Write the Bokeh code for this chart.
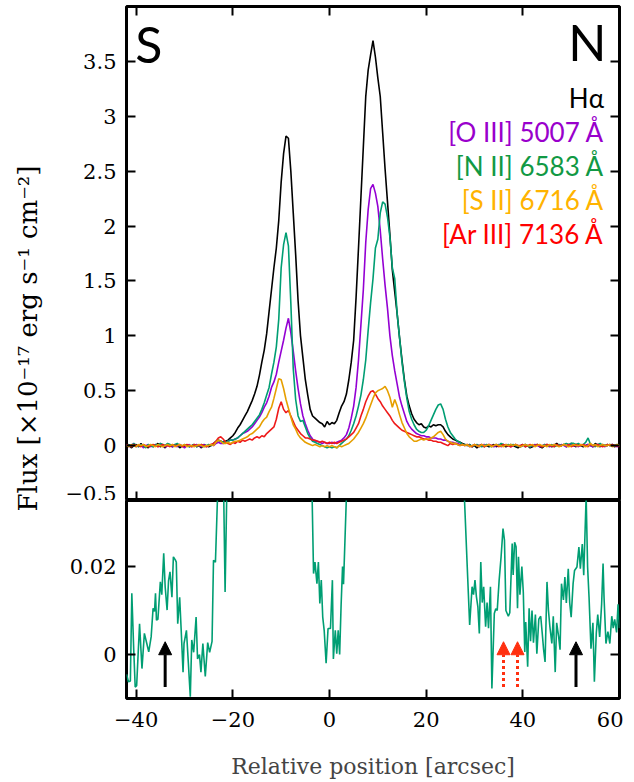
import math
from bokeh.plotting import figure
from bokeh.models import (Range1d, FixedTicker, LinearAxis, Label, Arrow, NormalHead,
                          ColumnDataSource)
from bokeh.layouts import row, column
from bokeh.embed import file_html
from bokeh.resources import INLINE

# ---------------- data ----------------
# sampling positions along the slit [arcsec], 0.5" steps from -42 to 60
POS = [round(-42 + 0.5 * i, 1) for i in range(205)]

HALPHA = [
    -0.01, 0.01, -0.02, 0.0, 0.01, -0.01, 0.02, -0.01, 0.0, -0.02,
    0.01, -0.01, 0.0, 0.02, -0.01, 0.0, -0.02, 0.01, 0.0, -0.01,
    0.0, 0.01, -0.02, 0.0, -0.01, 0.01, -0.01, 0.0, 0.01, -0.01,
    0.0, -0.02, 0.01, 0.0, -0.01, 0.0, 0.01, 0.03, 0.05, 0.04,
    0.03, 0.04, 0.05, 0.07, 0.09, 0.12, 0.16, 0.19, 0.23, 0.27,
    0.31, 0.36, 0.41, 0.47, 0.54, 0.64, 0.76, 0.87, 1.02, 1.22,
    1.42, 1.62, 1.80, 2.05, 2.40, 2.66, 2.82, 2.80, 2.50, 2.12,
    1.74, 1.32, 1.00, 0.80, 0.60, 0.46, 0.33, 0.27, 0.25, 0.23,
    0.21, 0.20, 0.17, 0.22, 0.19, 0.21, 0.20, 0.23, 0.30, 0.36,
    0.40, 0.47, 0.60, 0.76, 0.96, 1.35, 1.80, 2.26, 2.72, 3.18,
    3.42, 3.56, 3.69, 3.54, 3.35, 3.18, 2.85, 2.52, 2.22, 1.92,
    1.60, 1.40, 1.20, 0.98, 0.78, 0.60, 0.45, 0.36, 0.29, 0.24,
    0.21, 0.19, 0.20, 0.17, 0.16, 0.18, 0.17, 0.19, 0.18, 0.19,
    0.19, 0.17, 0.13, 0.10, 0.08, 0.06, 0.05, 0.04, 0.03, 0.02,
    0.01, 0.0, 0.01, -0.01, 0.0, -0.02, 0.0, 0.01, -0.01, 0.0,
    -0.01, 0.0, 0.01, -0.01, 0.0, 0.01, 0.0, -0.01, 0.0, 0.01,
    0.0, -0.01, -0.02, 0.0, 0.01, -0.01, 0.0, -0.02, -0.01, 0.0,
    0.01, -0.01, -0.02, 0.0, 0.01, 0.0, -0.01, 0.0, 0.02, 0.0,
    0.0, 0.01, -0.01, 0.0, 0.02, 0.0, -0.01, 0.01, 0.0, -0.01,
    0.0, 0.01, 0.0, -0.01, 0.02, 0.0, -0.01, 0.01, 0.0, 0.0,
    0.01, 0.0, -0.01, 0.0, 0.01,
]

OIII = [
    0.01, -0.01, 0.0, 0.02, -0.01, 0.0, 0.01, -0.02, 0.0, 0.01,
    -0.01, 0.0, 0.01, -0.01, 0.02, 0.0, -0.01, 0.0, 0.01, -0.01,
    0.0, -0.01, 0.01, 0.0, -0.02, 0.0, 0.01, -0.01, 0.0, 0.01,
    0.0, -0.01, 0.01, -0.01, 0.0, 0.01, 0.0, 0.02, 0.03, 0.02,
    0.02, 0.03, 0.04, 0.05, 0.05, 0.06, 0.07, 0.09, 0.11, 0.12,
    0.13, 0.15, 0.17, 0.20, 0.23, 0.26, 0.30, 0.35, 0.39, 0.45,
    0.53, 0.58, 0.65, 0.76, 0.86, 0.96, 1.07, 1.16, 1.03, 0.86,
    0.68, 0.52, 0.38, 0.27, 0.20, 0.14, 0.09, 0.06, 0.04, 0.04,
    0.03, 0.02, 0.03, 0.02, 0.02, 0.03, 0.02, 0.03, 0.04, 0.05,
    0.07, 0.10, 0.16, 0.25, 0.36, 0.53, 0.78, 1.10, 1.42, 1.85,
    2.15, 2.34, 2.38, 2.30, 2.18, 1.96, 1.70, 1.46, 1.25, 1.00,
    0.82, 0.68, 0.56, 0.44, 0.36, 0.29, 0.22, 0.18, 0.15, 0.13,
    0.11, 0.10, 0.09, 0.09, 0.08, 0.08, 0.07, 0.07, 0.07, 0.06,
    0.06, 0.05, 0.05, 0.04, 0.03, 0.03, 0.02, 0.02, 0.01, 0.01,
    0.0, 0.01, -0.01, 0.0, 0.01, 0.0, -0.01, 0.0, 0.01, 0.0,
    0.01, 0.0, -0.01, 0.0, 0.01, -0.01, 0.0, 0.01, 0.0, -0.01,
    0.0, 0.01, 0.0, -0.01, 0.0, 0.01, 0.0, -0.01, 0.0, 0.01,
    0.0, -0.01, 0.0, 0.01, 0.0, -0.01, 0.0, 0.01, 0.0, 0.0,
    0.01, 0.0, -0.01, 0.0, 0.01, 0.0, 0.0, -0.01, 0.01, 0.0,
    0.0, 0.01, 0.0, -0.01, 0.0, 0.01, 0.0, 0.0, -0.01, 0.01,
    0.0, 0.01, 0.0, -0.01, 0.0,
]

NII = [
    0.0, 0.01, -0.01, 0.02, 0.0, -0.01, 0.01, 0.0, -0.02, 0.01,
    0.0, -0.01, 0.01, 0.0, 0.02, 0.01, 0.0, 0.02, 0.01, 0.0,
    0.01, 0.02, 0.0, -0.01, 0.01, 0.0, -0.01, 0.0, 0.01, -0.01,
    0.0, 0.01, -0.01, 0.0, 0.01, 0.0, 0.02, 0.04, 0.05, 0.04,
    0.03, 0.03, 0.04, 0.05, 0.05, 0.06, 0.07, 0.09, 0.11, 0.13,
    0.15, 0.17, 0.19, 0.22, 0.25, 0.28, 0.33, 0.39, 0.46, 0.53,
    0.65, 0.76, 0.90, 1.15, 1.62, 1.83, 1.94, 1.82, 1.30, 0.70,
    0.42, 0.27, 0.22, 0.23, 0.17, 0.11, 0.07, 0.04, 0.03, 0.02,
    0.01, 0.0, -0.01, -0.02, -0.01, -0.02, -0.01, -0.02, 0.0, 0.02,
    0.04, 0.06, 0.09, 0.14, 0.20, 0.27, 0.36, 0.46, 0.60, 0.78,
    1.05, 1.30, 1.52, 1.80, 1.88, 2.12, 2.22, 2.20, 2.08, 1.90,
    1.62, 1.52, 1.20, 0.98, 0.76, 0.58, 0.43, 0.31, 0.24, 0.19,
    0.15, 0.13, 0.12, 0.12, 0.14, 0.18, 0.23, 0.28, 0.33, 0.37,
    0.38, 0.33, 0.24, 0.17, 0.12, 0.09, 0.06, 0.04, 0.03, 0.01,
    0.01, 0.0, 0.01, -0.01, 0.0, 0.01, 0.0, -0.01, 0.0, 0.01,
    0.0, -0.01, 0.0, 0.01, 0.0, 0.02, 0.01, 0.0, 0.01, 0.0,
    0.01, 0.0, 0.0, -0.01, 0.0, 0.01, 0.0, -0.01, 0.0, 0.0,
    0.01, 0.0, -0.01, 0.01, 0.0, 0.0, 0.01, -0.01, 0.0, 0.01,
    0.0, 0.01, 0.02, 0.01, 0.02, 0.02, 0.01, 0.02, 0.0, 0.01,
    0.03, 0.07, 0.01, 0.0, -0.01, 0.01, 0.02, 0.0, 0.0, 0.01,
    0.0, 0.01, 0.0, 0.01, 0.0,
]

SII = [
    0.0, -0.01, 0.01, 0.0, -0.01, 0.01, 0.0, 0.01, -0.01, 0.0,
    0.01, 0.0, -0.01, 0.01, 0.0, -0.01, 0.0, 0.01, 0.0, 0.01,
    -0.01, 0.0, 0.01, 0.0, 0.01, -0.01, 0.0, 0.0, -0.01, 0.0,
    0.01, 0.0, -0.01, 0.0, 0.0, 0.01, 0.0, 0.03, 0.05, 0.04,
    0.02, 0.02, 0.03, 0.02, 0.03, 0.04, 0.04, 0.05, 0.06, 0.07,
    0.08, 0.10, 0.11, 0.13, 0.15, 0.17, 0.21, 0.24, 0.26, 0.31,
    0.35, 0.43, 0.52, 0.61, 0.60, 0.52, 0.42, 0.34, 0.26, 0.19,
    0.15, 0.10, 0.07, 0.05, 0.03, 0.02, 0.01, 0.0, 0.01, 0.0,
    -0.01, 0.0, -0.01, 0.0, -0.01, 0.0, -0.01, -0.02, 0.0, -0.01,
    0.0, 0.01, 0.02, 0.04, 0.06, 0.09, 0.12, 0.16, 0.20, 0.25,
    0.31, 0.37, 0.43, 0.48, 0.50, 0.51, 0.52, 0.54, 0.50, 0.44,
    0.35, 0.42, 0.36, 0.28, 0.21, 0.16, 0.11, 0.08, 0.06, 0.04,
    0.04, 0.05, 0.06, 0.05, 0.06, 0.06, 0.07, 0.08, 0.10, 0.12,
    0.13, 0.10, 0.06, 0.04, 0.03, 0.02, 0.02, 0.01, 0.0, 0.01,
    0.0, 0.01, -0.01, 0.0, 0.01, 0.0, -0.01, 0.01, 0.0, 0.0,
    0.01, -0.01, 0.0, 0.01, 0.0, 0.0, -0.01, 0.01, 0.0, 0.01,
    0.0, 0.01, 0.0, -0.01, 0.0, 0.01, 0.0, 0.0, 0.01, -0.01,
    0.0, 0.01, 0.0, 0.0, -0.01, 0.01, 0.0, 0.01, 0.0, -0.01,
    0.0, 0.01, 0.0, -0.01, 0.0, 0.01, 0.0, 0.0, 0.01, 0.0,
    -0.01, 0.0, 0.02, 0.0, 0.01, -0.01, 0.0, 0.01, 0.0, 0.0,
    0.01, -0.01, 0.0, 0.01, 0.0,
]

ARIII = [
    0.01, 0.0, -0.01, 0.01, 0.0, 0.0, -0.01, 0.01, 0.0, -0.01,
    0.0, 0.01, 0.0, -0.01, 0.0, 0.01, 0.0, 0.0, -0.01, 0.01,
    0.0, 0.0, 0.01, -0.01, 0.0, 0.01, 0.0, -0.01, 0.01, 0.0,
    0.0, 0.01, 0.0, -0.01, 0.0, 0.01, 0.02, 0.04, 0.07, 0.08,
    0.06, 0.03, 0.02, 0.01, 0.03, 0.02, 0.04, 0.03, 0.05, 0.04,
    0.05, 0.06, 0.05, 0.07, 0.08, 0.07, 0.09, 0.08, 0.11, 0.13,
    0.15, 0.17, 0.24, 0.34, 0.40, 0.33, 0.30, 0.32, 0.27, 0.22,
    0.17, 0.14, 0.11, 0.09, 0.07, 0.07, 0.06, 0.05, 0.05, 0.04,
    0.03, 0.04, 0.03, 0.02, 0.03, 0.02, 0.03, 0.02, 0.03, 0.04,
    0.05, 0.06, 0.08, 0.10, 0.12, 0.16, 0.20, 0.27, 0.33, 0.40,
    0.45, 0.49, 0.50, 0.47, 0.43, 0.40, 0.36, 0.33, 0.30, 0.27,
    0.23, 0.20, 0.18, 0.16, 0.14, 0.13, 0.12, 0.11, 0.10, 0.09,
    0.08, 0.08, 0.07, 0.06, 0.06, 0.05, 0.05, 0.04, 0.04, 0.03,
    0.03, 0.02, 0.01, 0.0, 0.02, 0.01, 0.02, 0.01, 0.0, 0.01,
    0.0, 0.01, 0.0, -0.01, 0.01, 0.0, 0.0, 0.01, -0.01, 0.0,
    0.01, 0.0, 0.0, 0.01, -0.01, 0.0, 0.01, 0.0, 0.0, -0.01,
    0.0, 0.01, 0.0, 0.0, 0.01, -0.01, 0.0, 0.01, 0.0, 0.0,
    0.01, 0.0, -0.01, 0.0, 0.01, 0.0, 0.0, -0.01, 0.01, 0.0,
    0.0, 0.01, 0.0, 0.01, -0.01, 0.0, 0.01, 0.0, 0.0, 0.01,
    0.0, -0.01, 0.01, 0.0, 0.0, 0.01, 0.0, -0.01, 0.0, 0.01,
    0.0, 0.01, 0.0, 0.0, -0.01,
]

# zoomed [N II] profile (lower panel)
ZOOM_POS = [
    -42.0, -41.6, -41.2, -40.9, -40.5, -40.2, -39.9, -39.3, -38.8, -38.3,
    -37.8, -37.4, -36.9, -36.5, -36.2, -36.0, -35.8, -35.5, -35.0, -34.7,
    -34.3, -34.0, -33.6, -33.3, -33.0, -32.6, -32.3, -31.9, -31.7, -31.4,
    -31.0, -30.7, -30.3, -30.1, -29.6, -29.2, -28.8, -28.5, -28.1, -27.6,
    -27.3, -26.9, -26.6, -26.2, -25.7, -25.2, -24.8, -24.3, -24.0, -23.6,
    -23.3, -22.9, -22.4, -22.0, -21.6, -21.2, -20.8, -4.3, -3.6, -3.3,
    -3.0, -2.6, -2.3, -2.0, -1.7, -1.4, -1.1, -0.7, -0.3, 0.2,
    0.6, 0.8, 1.2, 1.5, 1.8, 2.1, 2.4, 2.7, 2.9, 3.5,
    4.0, 27.4, 27.9, 28.5, 29.0, 29.5, 29.8, 30.1, 30.4, 30.7,
    31.0, 31.3, 31.6, 31.9, 32.3, 32.6, 32.9, 33.3, 33.6, 34.1,
    34.4, 34.7, 35.1, 35.5, 35.9, 36.2, 36.5, 37.0, 37.3, 37.8,
    38.0, 38.3, 38.6, 38.9, 39.1, 39.4, 39.8, 40.1, 40.4, 40.6,
    41.0, 41.3, 41.6, 41.9, 42.2, 42.6, 42.9, 43.3, 43.7, 44.0,
    44.3, 44.6, 45.0, 45.3, 45.6, 46.0, 46.3, 46.7, 47.0, 47.4,
    47.7, 48.0, 48.4, 48.7, 49.0, 49.4, 49.7, 50.0, 50.4, 50.7,
    51.2, 51.6, 51.9, 52.3, 52.6, 53.1, 53.4, 53.7, 54.1, 54.5,
    54.8, 55.2, 55.5, 55.9, 56.3, 56.6, 56.8, 57.2, 57.6, 58.0,
    58.4, 58.7, 59.0, 59.4, 59.7, 60.0,
]
ZOOM_NII = [
    -0.0045, -0.0062, -0.0060, 0.0139, 0.0010, -0.0074, -0.0071, 0.0070, -0.0032, 0.0048,
    0.0025, 0.0006, 0.0040, 0.0105, 0.0098, 0.0139, 0.0078, 0.0080, 0.0165, 0.0136,
    0.0230, 0.0154, 0.0101, 0.0168, 0.0188, 0.0130, 0.0222, 0.0215, 0.0210, 0.0070,
    0.0130, 0.0059, -0.0040, 0.0025, 0.0055, -0.0020, -0.0096, 0.0033, 0.0005, 0.0085,
    -0.0010, 0.0000, -0.0040, 0.0025, -0.0050, 0.0027, 0.0005, 0.0030, 0.0214, 0.0210,
    0.0313, 0.0450, 0.0600, 0.0450, 0.0142, 0.0400, 0.0700, 0.0800, 0.0360, 0.0184,
    0.0210, 0.0161, 0.0210, 0.0116, 0.0169, 0.0085, 0.0055, -0.0020, 0.0059, 0.0059,
    0.0169, -0.0010, 0.0055, 0.0002, 0.0055, 0.0000, 0.0112, 0.0200, 0.0160, 0.0360,
    0.0800, 0.0800, 0.0360, 0.0199, 0.0067, 0.0154, 0.0136, 0.0169, 0.0131, 0.0108,
    0.0048, 0.0210, 0.0118, 0.0154, 0.0063, 0.0118, 0.0060, 0.0154, -0.0077, 0.0093,
    0.0104, 0.0100, 0.0169, 0.0222, 0.0286, 0.0260, 0.0100, 0.0087, 0.0095, 0.0252,
    0.0181, 0.0255, 0.0245, 0.0105, 0.0222, 0.0136, 0.0200, 0.0141, 0.0006, 0.0074,
    -0.0028, 0.0105, 0.0030, 0.0100, 0.0027, 0.0091, 0.0002, 0.0080, 0.0087, 0.0050,
    0.0011, -0.0017, 0.0165, 0.0100, 0.0063, 0.0025, 0.0087, -0.0040, 0.0072, 0.0041,
    0.0011, 0.0161, 0.0124, 0.0176, 0.0117, 0.0195, 0.0117, 0.0085, 0.0161, 0.0191,
    0.0199, 0.0244, 0.0195, 0.0251, 0.0180, 0.0360, 0.0199, 0.0130, 0.0013, 0.0072,
    -0.0062, 0.0049, 0.0091, 0.0040, 0.0114, 0.0207, 0.0130, 0.0025, 0.0052, 0.0025,
    0.0087, 0.0060, 0.0080, 0.0050, 0.0114, 0.0060,
]

# arrows in the lower panel
ARROW_BLACK_POS = [-34.0, 51.0]
ARROW_RED_POS = [36.0, 38.9]
ARROW_FROM = -0.0074
ARROW_TO = 0.0029

SERIES = [
    ("Hα", HALPHA, "black", "black"),
    ("[O III] 5007 Å", OIII, "#9400d3", "#9900cc"),
    ("[N II] 6583 Å", NII, "#009e73", "#119944"),
    ("[Ar III] 7136 Å", ARIII, "#ee1a1a", "#ff0000"),
    ("[S II] 6716 Å", SII, "#e69f00", "#ffb300"),
]
LEGEND_ORDER = ["Hα", "[O III] 5007 Å", "[N II] 6583 Å", "[S II] 6716 Å", "[Ar III] 7136 Å"]

X_TICKS = [-40, -20, 0, 20, 40, 60]
TOP_TICKS = [-0.5, 0, 0.5, 1, 1.5, 2, 2.5, 3, 3.5]
TOP_RANGE = (-0.5, 4.0)
BOT_RANGE = (-0.01, 0.035)
BOT_TICKS = [0, 0.02]

# ---------------- styling ----------------
SERIF = "DejaVu Serif"
SANS = "Lato"
LAB_W = 58
BL = 68
BR = 4
FW = 493
TICK_FONT = "21px"


def fmt(v):
    return ("%g" % v).replace("-", "\u2212")


def add_axis(p, side, ticks, labels):
    ax = LinearAxis(ticker=FixedTicker(ticks=ticks))
    ax.axis_line_color = None
    ax.major_tick_in = 9
    ax.major_tick_out = 0
    ax.minor_tick_line_color = None
    ax.major_tick_line_width = 2
    ax.major_tick_line_color = "black"
    if labels:
        ax.major_label_text_font = SERIF
        ax.major_label_text_font_size = TICK_FONT
        ax.major_label_text_color = "black"
        ax.major_label_overrides = {t: fmt(t) for t in ticks}
        ax.major_label_standoff = 10
    else:
        ax.major_label_text_font_size = "0px"
        ax.major_label_text_color = None
        ax.major_label_standoff = 0
    p.add_layout(ax, side)
    return ax


def base_fig(fh, y_rng, top_border, bottom_border):
    p = figure(frame_width=FW, frame_height=fh,
               x_range=Range1d(-42, 60), y_range=Range1d(*y_rng),
               output_backend="svg", toolbar_location=None,
               x_axis_location=None, y_axis_location=None,
               min_border_left=BL, min_border_right=BR,
               min_border_top=top_border, min_border_bottom=bottom_border)
    p.outline_line_color = "black"
    p.outline_line_width = 3
    p.outline_line_alpha = 1
    p.grid.visible = False
    p.background_fill_color = "white"
    p.border_fill_color = "white"
    return p


# ---------------- top panel ----------------
top = base_fig(494, TOP_RANGE, 6, 0)
add_axis(top, "left", TOP_TICKS, True)
add_axis(top, "right", TOP_TICKS, False)
add_axis(top, "above", X_TICKS, False)
add_axis(top, "below", X_TICKS, False)

for name, vals, lc, tc in SERIES:
    top.line(POS, vals, line_color=lc, line_width=1.6)

legend_y = [3.17, 2.86, 2.55, 2.24, 1.93]
colors = {n: tc for n, _, _, tc in SERIES}
for name, ly in zip(LEGEND_ORDER, legend_y):
    top.add_layout(Label(x=56.8, y=ly, text=name, text_font=SANS, text_font_size="26px",
                         text_color=colors[name], text_align="right", text_baseline="middle"))

top.add_layout(Label(x=-40.2, y=3.66, text="S", text_font=SANS, text_font_size="50px",
                     text_color="black", text_align="left", text_baseline="middle"))
top.add_layout(Label(x=57.3, y=3.68, text="N", text_font=SANS, text_font_size="50px",
                     text_color="black", text_align="right", text_baseline="middle"))

# ---------------- bottom panel ----------------
bot = base_fig(198, BOT_RANGE, 0, 0)
add_axis(bot, "left", BOT_TICKS, True)
add_axis(bot, "right", BOT_TICKS, False)
xb = add_axis(bot, "below", X_TICKS, True)
xb.major_label_standoff = 13
xb.axis_label = "Relative position [arcsec]"
xb.axis_label_text_font = SERIF
xb.axis_label_text_font_size = "22px"
xb.axis_label_text_font_style = "normal"
xb.axis_label_standoff = 24

bot.line(ZOOM_POS, ZOOM_NII, line_color="#009e73", line_width=1.6)

src_black = ColumnDataSource(dict(x0=ARROW_BLACK_POS, x1=ARROW_BLACK_POS,
                                  y0=[ARROW_FROM] * len(ARROW_BLACK_POS),
                                  y1=[ARROW_TO] * len(ARROW_BLACK_POS)))
bot.add_layout(Arrow(end=NormalHead(size=13, fill_color="black", line_color="black", line_width=1),
                     x_start="x0", y_start="y0", x_end="x1", y_end="y1", source=src_black,
                     line_color="black", line_width=3))
src_red = ColumnDataSource(dict(x0=ARROW_RED_POS, x1=ARROW_RED_POS,
                                y0=[ARROW_FROM] * len(ARROW_RED_POS),
                                y1=[ARROW_TO] * len(ARROW_RED_POS)))
bot.add_layout(Arrow(end=NormalHead(size=13, fill_color="#ff3010", line_color="#ff3010", line_width=1),
                     x_start="x0", y_start="y0", x_end="x1", y_end="y1", source=src_red,
                     line_color="#ff3010", line_width=3, line_dash="3 3"))

# ---------------- y-axis title (spans both panels) ----------------
TOTAL_H = 770
lab = figure(width=LAB_W, height=TOTAL_H, x_range=Range1d(0, 1), y_range=Range1d(0, 1),
             output_backend="svg", toolbar_location=None,
             x_axis_location=None, y_axis_location=None,
             min_border_left=0, min_border_right=0, min_border_top=0, min_border_bottom=0)
lab.outline_line_color = None
lab.grid.visible = False
lab.add_layout(Label(x=0.47, y=1 - 338 / TOTAL_H, text="Flux [×10⁻¹⁷ erg s⁻¹ cm⁻²]",
                     angle=math.pi / 2, text_font=SERIF, text_font_size="26px",
                     text_color="black", text_align="center", text_baseline="middle"))

layout = row(lab, column(top, bot))
open("out.html", "w").write(file_html(layout, INLINE))
